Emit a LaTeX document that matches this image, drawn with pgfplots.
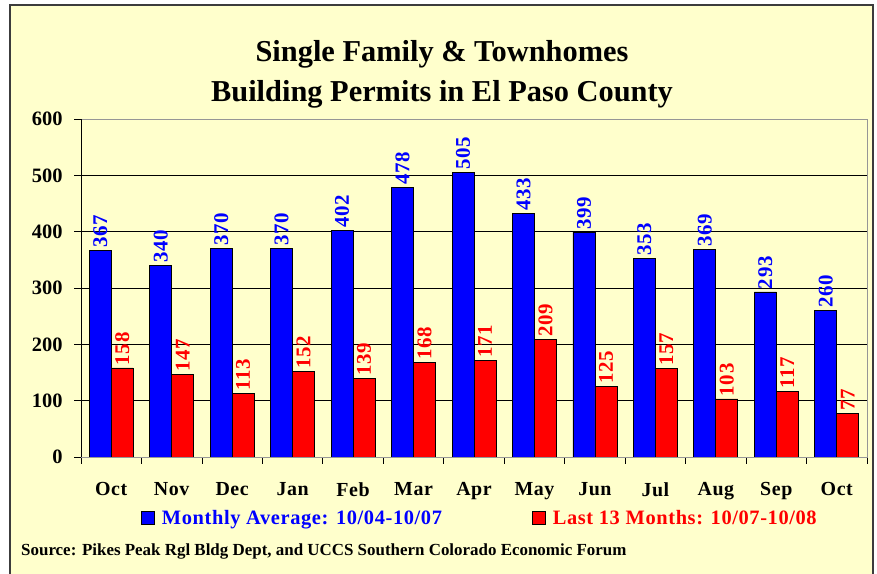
\documentclass[border=0pt]{standalone}
\usepackage{fontspec}
\setmainfont{Liberation Serif}
\newfontfamily\lsfont{Liberation Serif}[LetterSpace=3]
\usepackage{pgfplots}
\pgfplotsset{compat=1.18}
\definecolor{bgy}{RGB}{255,255,204}
\definecolor{frm}{RGB}{60,60,60}
\definecolor{boxg}{RGB}{150,150,150}
\begin{document}
\begin{tikzpicture}[x=1bp,y=1bp]
\useasboundingbox (0,0) rectangle (877,574);
\fill[white] (0,0) rectangle (877,574);
\fill[bgy] (10,-5) rectangle (873,569);
\draw[frm, line width=1.6bp] (10,-5) -- (10,569) -- (873,569) -- (873,-5);
\node[anchor=base, font=\bfseries\fontsize{30.5}{30.5}\selectfont] at (442,512) {Single Family \& Townhomes};
\node[anchor=base, font=\bfseries\fontsize{30.5}{30.5}\selectfont] at (442,472.3) {Building Permits in El Paso County};
\node[anchor=base west, inner sep=0pt, font=\bfseries\fontsize{17}{17}\selectfont] at (21,18) {Source: Pikes Peak Rgl Bldg Dept, and UCCS Southern Colorado Economic Forum};
\begin{axis}[
  at={(81bp,117bp)}, anchor=south west,
  width=786bp, height=338bp, scale only axis,
  xmin=-0.5, xmax=12.5, ymin=0, ymax=600,
  ybar=0pt, bar width=22bp,
  axis background/.style={fill=bgy},
  axis line style={draw=boxg},
  ytick={0,100,...,600},
  xtick={0,...,12},
  xticklabels={Oct,Nov,Dec,Jan,Feb,Mar,Apr,May,Jun,Jul,Aug,Sep,Oct},
  minor xtick={-0.5,0.5,...,12.5},
  major x tick style={draw=none},
  tick align=outside, tick pos=left,
  major tick length=7bp, minor tick length=7bp,
  every tick/.style={black, line width=0.8bp},
  ymajorgrids, major grid style={black, line width=0.8bp},
  /pgf/number format/assume math mode=true,
  ticklabel style={font=\bfseries\fontsize{20.5}{20.5}\selectfont},
  xticklabel style={yshift=-15bp, font=\lsfont\bfseries\fontsize{20}{20}\selectfont},
  yticklabel style={xshift=-8bp},
  nodes near coords,
  every node near coord/.append style={rotate=90, anchor=west, inner sep=2.5bp, font=\lsfont\bfseries\fontsize{21}{21}\selectfont},
  legend columns=2,
  legend style={draw=none, fill=none, at={(0.0763,-0.180)}, anchor=west, inner sep=0pt,
    font=\lsfont\bfseries\fontsize{20.5}{20.5}\selectfont,
    /tikz/every even column/.append style={column sep=88bp}},
  legend image code/.code={\draw[#1, draw=black, line width=0.8bp] (0bp,-6.5bp) rectangle (13bp,6.5bp); \path (18bp,0bp);},
]
\addplot[fill=blue, draw=black, line width=0.8bp, every node near coord/.append style={text=blue}] coordinates {
(0,367) (1,340) (2,370) (3,370) (4,402) (5,478) (6,505) (7,433) (8,399) (9,353) (10,369) (11,293) (12,260)};
\addplot[fill=red, draw=black, line width=0.8bp, every node near coord/.append style={text=red}] coordinates {
(0,158) (1,147) (2,113) (3,152) (4,139) (5,168) (6,171) (7,209) (8,125) (9,157) (10,103) (11,117) (12,77)};
\legend{\textcolor{blue}{Monthly Average: 10/04-10/07},\textcolor{red}{Last 13 Months: 10/07-10/08}}
\draw[black, line width=0.8bp] (rel axis cs:0,0) -- (rel axis cs:0,1);
\draw[black, line width=0.8bp] (rel axis cs:0,0) -- (rel axis cs:1,0);
\end{axis}
\end{tikzpicture}
\end{document}
